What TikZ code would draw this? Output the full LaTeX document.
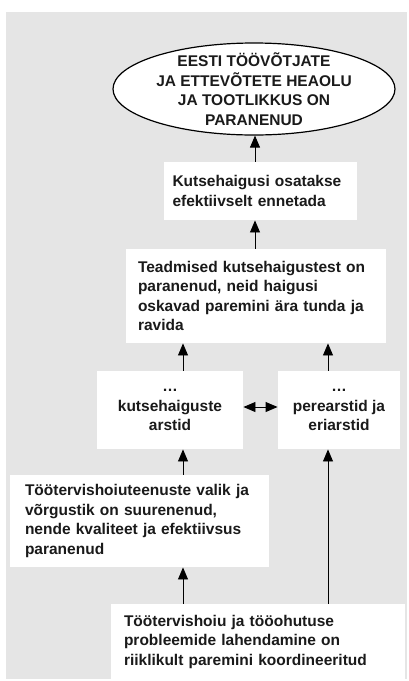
\documentclass[tikz,border=0pt]{standalone}
\usepackage{fontspec}
\setmainfont{Liberation Sans}
\usetikzlibrary{arrows.meta,shapes.geometric}
\definecolor{panel}{HTML}{E5E5E5}
\definecolor{ink}{HTML}{1A1A1A}
\begin{document}
\begin{tikzpicture}[x=1pt,y=-1pt,text=ink,
        font=\bfseries\fontsize{15.5}{19.5}\selectfont,
        >={Triangle[length=12pt,width=10pt]},line width=0.9pt]
        \useasboundingbox (0,0) rectangle (408,681);
        \fill[panel] (6,12) rectangle (407,679);
        \coordinate (lx) at (183,0);
        \coordinate (mx) at (255,0);
        \coordinate (rx) at (328,0);
        \coordinate (my) at (0,407);
        \begin{scope}[every node/.style={fill=white,inner sep=0pt,align=left}]
            \node (G) at (254,89) [ellipse,draw,line width=1.2pt,minimum width=282pt,
                minimum height=92pt]{};
            \node (Gt) at (G.center) [fill=none,align=center]
                {EESTI TÖÖVÕTJATE\\JA ETTEVÕTETE HEAOLU\\JA TOOTLIKKUS ON\\PARANENUD};
            \node (B1) at (260.5,191) [minimum width=193pt,minimum height=58pt,text width=176pt]
                {Kutsehaigusi osatakse\\efektiivselt ennetada};
            \node (B2) at (256,296) [minimum width=260pt,minimum height=94pt,text width=236pt]
                {Teadmised kutsehaigustest on\\paranenud, neid haigusi\\oskavad paremini ära tunda ja\\ravida};
            \node (B3) at (170,410) [minimum width=146pt,minimum height=78pt,align=center]
                {…\\kutsehaiguste\\arstid};
            \node (B4) at (339,410) [minimum width=122pt,minimum height=78pt,align=center]
                {…\\perearstid ja\\eriarstid};
            \node (B5) at (139.5,521) [minimum width=259pt,minimum height=92pt,text width=229pt]
                {Töötervishoiuteenuste valik ja\\võrgustik on suurenenud,\\nende kvaliteet ja efektiivsus\\paranenud};
            \node (B6) at (258,641.5) [minimum width=294pt,minimum height=75pt,text width=268pt]
                {Töötervishoiu ja tööohutuse\\probleemide lahendamine on\\riiklikult paremini koordineeritud};
        \end{scope}
        \path[->] (B1.north -| mx) edge (G.south -| mx);
        \path[->] (B2.north -| mx) edge (B1.south -| mx);
        \path[->] (B3.north -| lx) edge (B2.south -| lx);
        \path[->] (B4.north -| rx) edge (B2.south -| rx);
        \path[<->] (B3.east |- my) edge (B4.west |- my);
        \path[->] (B5.north -| lx) edge (B3.south -| lx);
        \path[->] (B6.north -| lx) edge (B5.south -| lx);
        \path[->] (B6.north -| rx) edge (B4.south -| rx);
    \end{tikzpicture}
\end{document}
